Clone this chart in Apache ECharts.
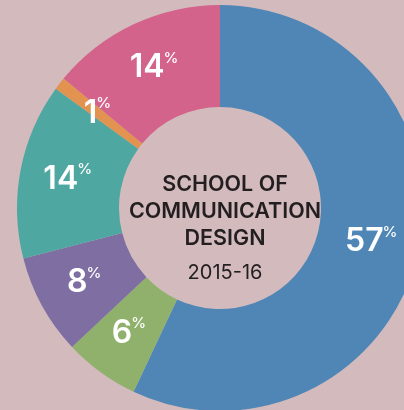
<!DOCTYPE html>
<html>
<head>
<meta charset="utf-8">
<script src="https://cdn.jsdelivr.net/npm/echarts@6/dist/echarts.min.js"></script>
<style>
    html, body { margin: 0; padding: 0; background: #d2babd; }
    #chart { width: 404px; height: 410px; }
</style>
</head>
<body>
<div id="chart"></div>
<script>
// 数据
var categories = ['A', 'B', 'C', 'D', 'E', 'F'];
var shares = [57, 6, 8, 14, 1, 14];
var colors = ['#4f86b5', '#8fb16c', '#7e6ea2', '#4ea8a1', '#e1934f', '#d4638b'];
var centerLines = ['SCHOOL OF', 'COMMUNICATION', 'DESIGN'];
var yearText = '2015-16';

var chartDom = echarts.init(document.getElementById('chart'));

var pieData = categories.map(function (name, i) {
    return {
        name: name,
        value: shares[i],
        itemStyle: { color: colors[i] }
    };
});

var option = {
    backgroundColor: '#d2babd',
    title: [{
        text: centerLines.join('\n'),
        left: 220,
        top: 166,
        textAlign: 'center',
        textStyle: {
            fontFamily: 'Inter',
            fontWeight: 600,
            fontSize: 21.5,
            lineHeight: 27,
            color: '#231f20'
        }
    }, {
        text: yearText,
        left: 220,
        top: 258,
        textAlign: 'center',
        textStyle: {
            fontFamily: 'Inter',
            fontWeight: 400,
            fontSize: 20,
            color: '#231f20'
        }
    }],
    series: [{
        type: 'pie',
        center: [220, 208],
        radius: [101, 203],
        startAngle: 90,
        clockwise: true,
        silent: true,
        avoidLabelOverlap: false,
        label: {
            show: true,
            position: 'inside',
            formatter: function (p) {
                return '{n|' + p.value + '}{p|%}';
            },
            rich: {
                n: {
                    fontFamily: 'Inter',
                    fontWeight: 600,
                    fontSize: 32,
                    color: '#fff',
                    lineHeight: 34
                },
                p: {
                    fontFamily: 'Inter',
                    fontWeight: 500,
                    fontSize: 15,
                    color: '#fff',
                    lineHeight: 34,
                    verticalAlign: 'top',
                    padding: [0, 0, 0, -1]
                }
            }
        },
        labelLine: { show: false },
        itemStyle: { borderWidth: 0 },
        data: pieData
    }]
};

chartDom.setOption(option);
</script>
</body>
</html>
